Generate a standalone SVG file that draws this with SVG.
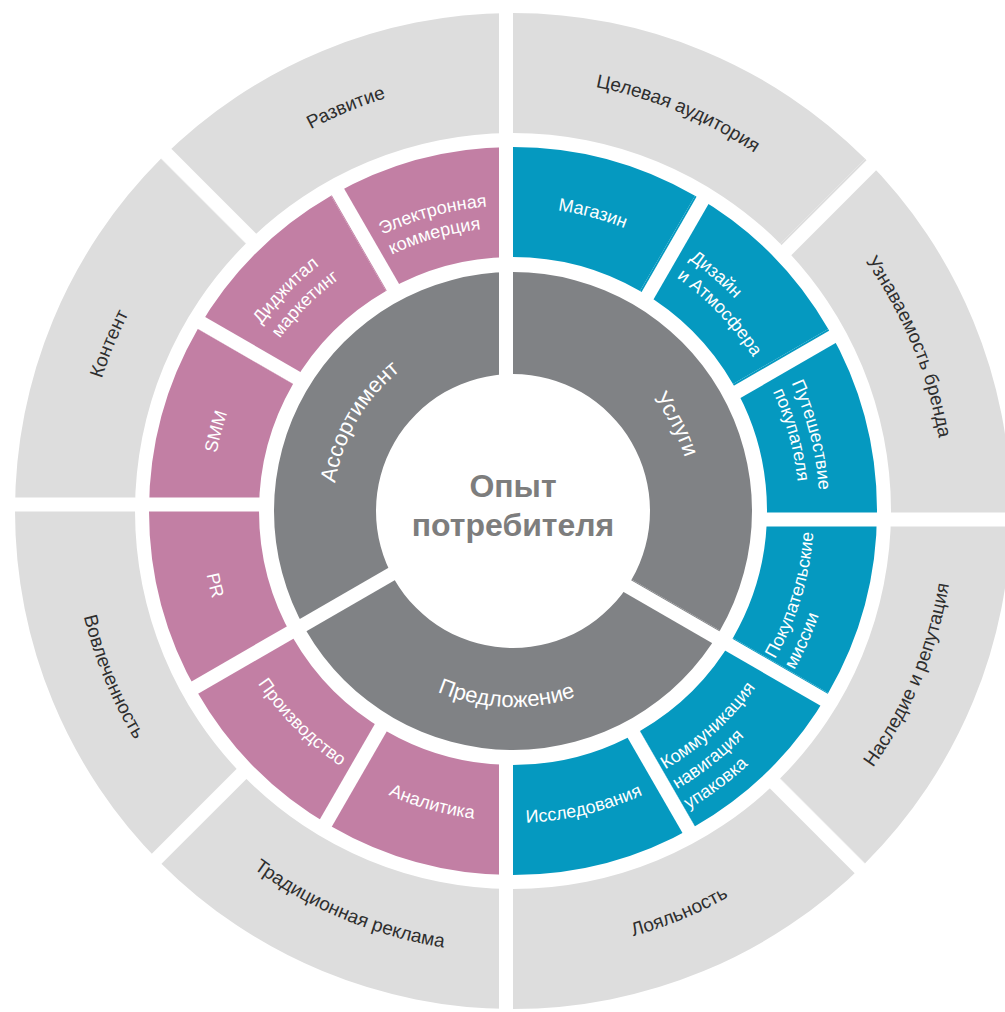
<svg xmlns="http://www.w3.org/2000/svg" xmlns:xlink="http://www.w3.org/1999/xlink" width="1005" height="1012" viewBox="0 0 1005 1012">
<style>
text{font-family:"Liberation Sans",Arial,sans-serif}
.o{fill:#dddddd}.p{fill:#c27fa4}.b{fill:#0599c0}.g{fill:#808285}
.ot{font-size:19px;fill:#2e2e2e}
.ct{font-size:18px;fill:#ffffff}
.gt{font-size:22px;fill:#ffffff}
.mid{text-anchor:middle}
.center{font-size:32px;font-weight:bold;fill:#7d7d7d;text-anchor:middle}
</style>
<defs>
<mask id="gaps" maskUnits="userSpaceOnUse" x="0" y="0" width="1005" height="1012">
<rect x="0" y="0" width="1005" height="1012" fill="#fff"/>
<g stroke="#000" stroke-width="14" fill="none">
<line x1="506" y1="-10" x2="506" y2="450"/>
<line x1="506" y1="757" x2="506" y2="1022"/>
<line x1="643.5" y1="302.7" x2="706.5" y2="193.6"/>
<line x1="730.8" y1="395.5" x2="839.9" y2="332.5"/>
<line x1="760" y1="519.5" x2="1034" y2="519.5"/>
<line x1="723.3" y1="641.5" x2="832.4" y2="704.5"/>
<line x1="630.5" y1="728.8" x2="693.5" y2="837.9"/>
<line x1="384.5" y1="721.3" x2="321.5" y2="830.4"/>
<line x1="297.2" y1="628.5" x2="188.1" y2="691.5"/>
<line x1="268" y1="504.5" x2="-6" y2="504.5"/>
<line x1="304.7" y1="382.5" x2="195.6" y2="319.5"/>
<line x1="397.5" y1="295.2" x2="334.5" y2="186.1"/>
<line x1="782.3" y1="254.3" x2="887" y2="149.6"/>
<line x1="771.7" y1="780.3" x2="876.4" y2="885"/>
<line x1="245.7" y1="769.7" x2="141" y2="874.4"/>
<line x1="256.3" y1="243.7" x2="151.6" y2="139"/>
<line x1="618.5" y1="581" x2="725" y2="642.5"/>
<line x1="402" y1="568" x2="295.5" y2="629.5"/>
</g>
</mask>
<path id="a-cel" d="M456.61,82.70 A432,432 0 0 1 855.73,248.02"/>
<path id="a-uzn" d="M775.98,168.27 A432,432 0 0 1 941.30,567.39"/>
<path id="a-nas" d="M782.07,861.66 A442,442 0 0 0 951.22,453.31"/>
<path id="a-loy" d="M455.31,949.22 A442,442 0 0 0 863.66,780.07"/>
<path id="a-tra" d="M162.34,780.07 A442,442 0 0 0 570.69,949.22"/>
<path id="a-vov" d="M74.78,453.31 A442,442 0 0 0 243.93,861.66"/>
<path id="a-kon" d="M84.70,567.39 A432,432 0 0 1 250.02,168.27"/>
<path id="a-raz" d="M170.27,248.02 A432,432 0 0 1 569.39,82.70"/>
<path id="a-mag" d="M434.32,217.36 A304,304 0 0 1 727.96,296.04"/>
<path id="a-iss" d="M424.39,810.15 A312,312 0 0 0 727.77,737.32"/>
<path id="a-ana" d="M291.89,728.28 A310,310 0 0 0 590.62,811.13"/>
<path id="a-pro" d="M215.49,590.72 A308,308 0 0 0 433.28,808.51"/>
<path id="a-pr" d="M212.13,424.72 A313,313 0 0 0 287.85,728.43"/>
<path id="a-smm" d="M221.29,589.16 A302,302 0 0 1 299.45,297.45"/>
<path id="a-el1" d="M382.44,234.80 A305.5,305.5 0 0 1 640.66,233.45"/>
<path id="a-el2" d="M391.84,254.69 A283.5,283.5 0 0 1 631.47,253.44"/>
<path id="a-dd1" d="M261.39,324.82 A313,313 0 0 1 493.89,198.59"/>
<path id="a-dd2" d="M279.88,338.50 A290,290 0 0 1 495.30,221.54"/>
<path id="a-dz1" d="M689.09,259.52 A307,307 0 0 1 818.83,484.24"/>
<path id="a-dz2" d="M676.47,277.54 A285,285 0 0 1 796.92,486.16"/>
<path id="a-pt1" d="M791.46,382.92 A306.5,306.5 0 0 1 790.10,641.99"/>
<path id="a-pt2" d="M772.83,391.49 A286,286 0 0 1 771.57,633.22"/>
<path id="a-pk1" d="M774.98,659.22 A301,301 0 0 0 794.94,405.59"/>
<path id="a-pk2" d="M794.13,670.05 A323,323 0 0 0 815.54,397.88"/>
<path id="a-km1" d="M665.26,769.49 A300,300 0 0 0 808.89,560.52"/>
<path id="a-km2" d="M676.94,789.31 A323,323 0 0 0 831.57,564.31"/>
<path id="a-km3" d="M688.61,809.12 A346,346 0 0 0 854.26,568.11"/>
<path id="a-usl" d="M565.63,338.87 A180,180 0 0 1 685.13,563.63"/>
<path id="a-ass" d="M339.13,557.59 A180,180 0 0 1 466.41,337.13"/>
<path id="a-pre" d="M369.66,644.67 A196,196 0 0 0 646.67,654.34"/>
</defs>
<rect width="1005" height="1012" fill="#ffffff"/>

<g id="outer-ring">
<g id="n-celevaya"><path class="o" mask="url(#gaps)" d="M513,13 A498,498 0 0 1 865.14,158.86 L780.28,243.72 A378,378 0 0 0 513,133 Z"/><text class="ot mid"><textPath href="#a-cel" startOffset="50%">Целевая аудитория</textPath></text></g>
<g id="n-uznavaemost"><path class="o" mask="url(#gaps)" d="M865.14,158.86 A498,498 0 0 1 1011,511 L891,511 A378,378 0 0 0 780.28,243.72 Z"/><text class="ot mid"><textPath href="#a-uzn" startOffset="50%">Узнаваемость бренда</textPath></text></g>
<g id="n-nasledie"><path class="o" mask="url(#gaps)" d="M1011,511 A498,498 0 0 1 865.14,863.14 L780.28,778.28 A378,378 0 0 0 891,511 Z"/><text class="ot mid"><textPath href="#a-nas" startOffset="50%">Наследие и репутация</textPath></text></g>
<g id="n-loyalnost"><path class="o" mask="url(#gaps)" d="M865.14,863.14 A498,498 0 0 1 513,1009 L513,889 A378,378 0 0 0 780.28,778.28 Z"/><text class="ot mid"><textPath href="#a-loy" startOffset="50%">Лояльность</textPath></text></g>
<g id="n-tradicionnaya"><path class="o" mask="url(#gaps)" d="M513,1009 A498,498 0 0 1 160.86,863.14 L245.72,778.28 A378,378 0 0 0 513,889 Z"/><text class="ot mid"><textPath href="#a-tra" startOffset="50%">Традиционная реклама</textPath></text></g>
<g id="n-vovlechennost"><path class="o" mask="url(#gaps)" d="M160.86,863.14 A498,498 0 0 1 15,511 L135,511 A378,378 0 0 0 245.72,778.28 Z"/><text class="ot mid"><textPath href="#a-vov" startOffset="50%">Вовлеченность</textPath></text></g>
<g id="n-kontent"><path class="o" mask="url(#gaps)" d="M15,511 A498,498 0 0 1 160.86,158.86 L245.72,243.72 A378,378 0 0 0 135,511 Z"/><text class="ot mid"><textPath href="#a-kon" startOffset="50%">Контент</textPath></text></g>
<g id="n-razvitie"><path class="o" mask="url(#gaps)" d="M160.86,158.86 A498,498 0 0 1 513,13 L513,133 A378,378 0 0 0 245.72,243.72 Z"/><text class="ot mid"><textPath href="#a-raz" startOffset="50%">Развитие</textPath></text></g>
</g>

<g id="middle-ring">
<g id="n-magazin"><path class="b" mask="url(#gaps)" d="M513,147 A364,364 0 0 1 695,195.77 L640,291.03 A254,254 0 0 0 513,257 Z"/><text class="ct mid"><textPath href="#a-mag" startOffset="50%">Магазин</textPath></text></g>
<g id="n-dizain"><path class="b" mask="url(#gaps)" d="M695,195.77 A364,364 0 0 1 828.23,329 L732.97,384 A254,254 0 0 0 640,291.03 Z"/><text class="ct"><textPath href="#a-dz1">Дизайн</textPath></text><text class="ct"><textPath href="#a-dz2">и Атмосфера</textPath></text></g>
<g id="n-puteshestvie"><path class="b" mask="url(#gaps)" d="M828.23,329 A364,364 0 0 1 877,511 L767,511 A254,254 0 0 0 732.97,384 Z"/><text class="ct"><textPath href="#a-pt1">Путешествие</textPath></text><text class="ct"><textPath href="#a-pt2">покупателя</textPath></text></g>
<g id="n-missii"><path class="b" mask="url(#gaps)" d="M877,511 A364,364 0 0 1 828.23,693 L732.97,638 A254,254 0 0 0 767,511 Z"/><text class="ct"><textPath href="#a-pk1">Покупательские</textPath></text><text class="ct"><textPath href="#a-pk2">миссии</textPath></text></g>
<g id="n-kommunikaciya"><path class="b" mask="url(#gaps)" d="M828.23,693 A364,364 0 0 1 695,826.23 L640,730.97 A254,254 0 0 0 732.97,638 Z"/><text class="ct"><textPath href="#a-km1">Коммуникация</textPath></text><text class="ct"><textPath href="#a-km2">навигация</textPath></text><text class="ct"><textPath href="#a-km3">упаковка</textPath></text></g>
<g id="n-issledovaniya"><path class="b" mask="url(#gaps)" d="M695,826.23 A364,364 0 0 1 513,875 L513,765 A254,254 0 0 0 640,730.97 Z"/><text class="ct mid"><textPath href="#a-iss" startOffset="50%">Исследования</textPath></text></g>
<g id="n-analitika"><path class="p" mask="url(#gaps)" d="M513,875 A364,364 0 0 1 331,826.23 L386,730.97 A254,254 0 0 0 513,765 Z"/><text class="ct mid"><textPath href="#a-ana" startOffset="50%">Аналитика</textPath></text></g>
<g id="n-proizvodstvo"><path class="p" mask="url(#gaps)" d="M331,826.23 A364,364 0 0 1 197.77,693 L293.03,638 A254,254 0 0 0 386,730.97 Z"/><text class="ct mid"><textPath href="#a-pro" startOffset="50%">Производство</textPath></text></g>
<g id="n-pr"><path class="p" mask="url(#gaps)" d="M197.77,693 A364,364 0 0 1 149,511 L259,511 A254,254 0 0 0 293.03,638 Z"/><text class="ct mid"><textPath href="#a-pr" startOffset="50%">PR</textPath></text></g>
<g id="n-smm"><path class="p" mask="url(#gaps)" d="M149,511 A364,364 0 0 1 197.77,329 L293.03,384 A254,254 0 0 0 259,511 Z"/><text class="ct mid"><textPath href="#a-smm" startOffset="50%">SMM</textPath></text></g>
<g id="n-didzhital"><path class="p" mask="url(#gaps)" d="M197.77,329 A364,364 0 0 1 331,195.77 L386,291.03 A254,254 0 0 0 293.03,384 Z"/><text class="ct"><textPath href="#a-dd1">Диджитал</textPath></text><text class="ct"><textPath href="#a-dd2">маркетинг</textPath></text></g>
<g id="n-elektronnaya"><path class="p" mask="url(#gaps)" d="M331,195.77 A364,364 0 0 1 513,147 L513,257 A254,254 0 0 0 386,291.03 Z"/><text class="ct"><textPath href="#a-el1">Электронная</textPath></text><text class="ct"><textPath href="#a-el2">коммерция</textPath></text></g>
</g>

<g id="inner-ring">
<g id="n-uslugi"><path class="g" mask="url(#gaps)" d="M513,272 A239,239 0 0 1 719.98,630.5 L631.64,579.5 A137,137 0 0 0 513,374 Z"/><text class="gt mid"><textPath href="#a-usl" startOffset="50%">Услуги</textPath></text></g>
<g id="n-predlozhenie"><path class="g" mask="url(#gaps)" d="M719.98,630.5 A239,239 0 0 1 306.02,630.5 L394.36,579.5 A137,137 0 0 0 631.64,579.5 Z"/><text class="gt mid"><textPath href="#a-pre" startOffset="50%">Предложение</textPath></text></g>
<g id="n-assortiment"><path class="g" mask="url(#gaps)" d="M306.02,630.5 A239,239 0 0 1 513,272 L513,374 A137,137 0 0 0 394.36,579.5 Z"/><text class="gt mid"><textPath href="#a-ass" startOffset="50%">Ассортимент</textPath></text></g>
</g>

<g id="n-center">
<text class="center" x="513" y="497">Опыт</text>
<text class="center" x="513" y="536">потребителя</text>
</g>
</svg>
